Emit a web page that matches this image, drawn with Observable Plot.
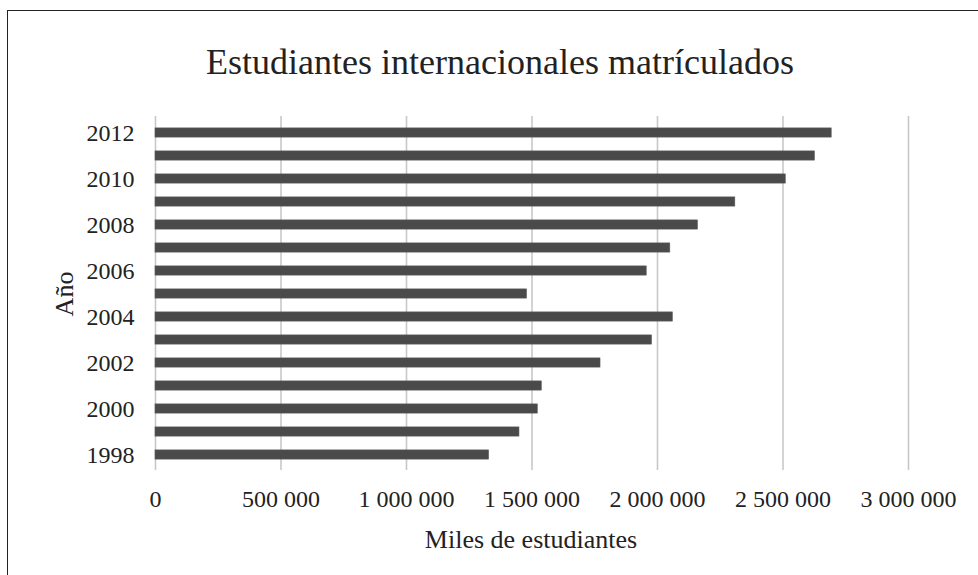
<!DOCTYPE html>
<html>
<head>
<meta charset="utf-8">
<script src="https://cdn.jsdelivr.net/npm/d3@7"></script>
<script src="https://cdn.jsdelivr.net/npm/@observablehq/plot@0.6"></script>
<style>
  html, body { margin: 0; padding: 0; background: #fff; }
  #wrap { position: relative; width: 978px; height: 575px; overflow: hidden; font-family: "Liberation Serif", "Times New Roman", serif; color: #222; }
  #frame { position: absolute; left: 7px; top: 10px; right: -10px; bottom: -10px; border-top: 1.5px solid #222; border-left: 1.5px solid #222; }
  #title { position: absolute; left: 0; width: 1000px; top: 40px; text-align: center; font-size: 36px; line-height: 44px; }
  #xlabel { position: absolute; left: 154px; width: 754px; top: 525px; text-align: center; font-size: 26px; line-height: 30px; }
  #ylabel { position: absolute; left: 65px; top: 294px; font-size: 26px; transform: translate(-50%, -50%) rotate(-90deg); white-space: nowrap; }
  #chart { position: absolute; left: 0; top: 0; }
</style>
</head>
<body>
<div id="wrap">
  <div id="frame"></div>
  <div id="chart"></div>
  <div id="title">Estudiantes internacionales matrículados</div>
  <div id="xlabel">Miles de estudiantes</div>
  <div id="ylabel">Año</div>
</div>
<script>
const years = [1998, 1999, 2000, 2001, 2002, 2003, 2004, 2005, 2006, 2007, 2008, 2009, 2010, 2011, 2012];
const students = [1329000, 1450000, 1523000, 1539000, 1773000, 1978000, 2061000, 1480000, 1957000, 2051000, 2161000, 2310000, 2511000, 2627000, 2694000];
const xTicks = [0, 500000, 1000000, 1500000, 2000000, 2500000, 3000000];
const yTickYears = [1998, 2000, 2002, 2004, 2006, 2008, 2010, 2012];

const data = years.map((y, i) => ({year: y, value: students[i]}));
const fmt = d => d3.format(",")(d).replace(/,/g, " ");

const chart = Plot.plot({
  width: 978,
  height: 575,
  marginTop: 116,
  marginBottom: 105,
  marginLeft: 155,
  marginRight: 70,
  style: {fontFamily: '"Liberation Serif", "Times New Roman", serif', fontSize: "24px", color: "#222", background: "transparent"},
  x: {domain: [0, 3000000]},
  y: {domain: years.slice().reverse(), padding: 0},
  marks: [
    Plot.ruleX(xTicks, {stroke: "#c8c8c8", strokeWidth: 1.6}),
    Plot.barX(data, {x: "value", y: "year", fill: "#4a4a4a", stroke: "#5a5a5a", strokeWidth: 0.6, insetTop: 6.9, insetBottom: 6.9}),
    Plot.axisX({ticks: xTicks, tickFormat: fmt, tickSize: 0, tickPadding: 19, label: null, fontSize: 24}),
    Plot.axisY({ticks: yTickYears, tickFormat: d => String(d), tickSize: 0, tickPadding: 21, label: null, fontSize: 24})
  ]
});
document.getElementById("chart").appendChild(chart);
</script>
</body>
</html>
